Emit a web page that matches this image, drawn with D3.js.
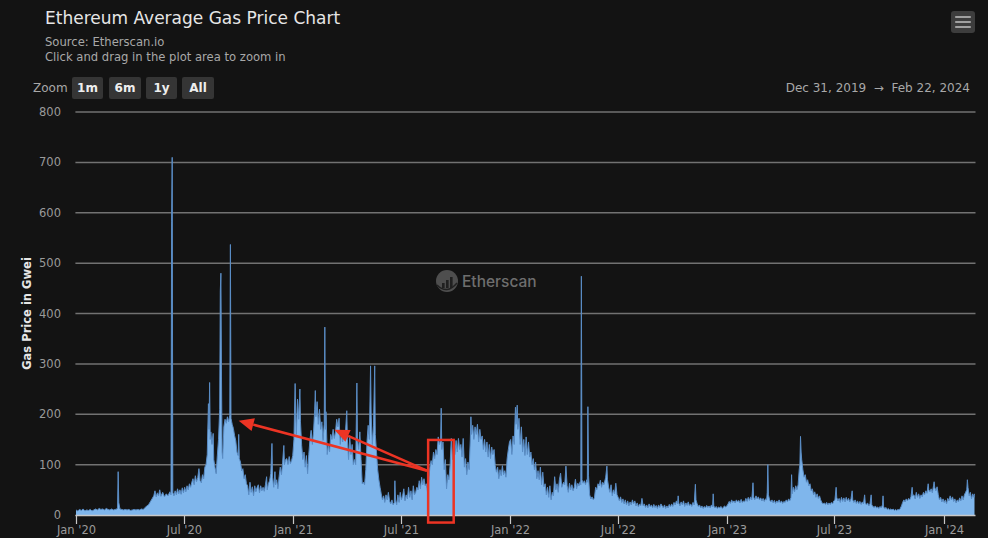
<!DOCTYPE html>
<html>
<head>
<meta charset="utf-8">
<script src="https://cdn.jsdelivr.net/npm/d3@7"></script>
<style>
  html, body { margin: 0; padding: 0; background: #131313; }
  svg { display: block; }
</style>
</head>
<body>
<svg id="chart" width="988" height="538"></svg>
<script>
// ---------------- DATA ----------------
const chartTitle = "Ethereum Average Gas Price Chart";
const subtitleLines = ["Source: Etherscan.io", "Click and drag in the plot area to zoom in"];
const yAxisTitle = "Gas Price in Gwei";
const zoomButtons = ["1m", "6m", "1y", "All"];
const rangeStart = "2019-12-31";
const rangeEnd = "2024-02-22";
const yTicks = [0, 100, 200, 300, 400, 500, 600, 700, 800];
const watermarkText = "Etherscan";

// daily average gas price (Gwei), [month-day, value] per year
const gas2020 = [
["01-01",10],["01-04",8],["01-07",11],["01-10",9],["01-13",12],["01-16",8],["01-19",10],["01-22",9],["01-25",11],["01-28",8],["01-31",10],["02-03",12],["02-06",10],["02-09",13],["02-12",11],["02-15",12],["02-18",10],["02-21",13],["02-24",11],["02-27",10],["03-01",12],["03-04",10],["03-07",11],["03-10",12],["03-11",14],["03-12",86],["03-13",25],["03-15",12],["03-18",11],["03-21",10],["03-24",11],["03-27",10],["03-30",11],["04-02",9],["04-05",10],["04-08",11],["04-11",10],["04-14",11],["04-17",10],["04-20",12],["04-23",11],["04-26",14],["04-29",18],["05-02",20],["05-05",26],["05-08",32],["05-11",38],["05-13",48],["05-15",36],["05-17",44],["05-19",38],["05-21",50],["05-23",37],["05-26",45],["05-29",36],["06-01",42],["06-04",38],["06-07",46],["06-09",40],["06-10",582],["06-11",710],["06-12",45],["06-14",38],["06-16",48],["06-18",40],["06-20",52],["06-22",42],["06-24",50],["06-26",41],["06-28",54],["06-30",44],["07-02",55],["07-04",46],["07-06",58],["07-08",50],["07-10",62],["07-12",55],["07-14",65],["07-16",72],["07-18",60],["07-20",78],["07-22",66],["07-24",74],["07-26",92],["07-28",68],["07-30",64],["08-01",80],["08-03",72],["08-05",95],["08-07",100],["08-09",120],["08-11",221],["08-12",170],["08-13",263],["08-14",150],["08-15",165],["08-17",140],["08-19",162],["08-20",110],["08-22",95],["08-24",82],["08-26",118],["08-28",150],["08-30",210],["08-31",445],["09-01",480],["09-02",274],["09-03",125],["09-04",112],["09-06",175],["09-08",190],["09-10",182],["09-12",195],["09-14",185],["09-16",198],["09-17",537],["09-18",192],["09-20",180],["09-22",172],["09-24",158],["09-26",148],["09-28",125],["09-30",118],["10-01",160],["10-02",112],["10-04",105],["10-06",88],["10-08",92],["10-10",72],["10-12",80],["10-14",62],["10-16",58],["10-18",40],["10-20",65],["10-22",45],["10-24",56],["10-26",38],["10-28",58],["10-30",46],["11-01",55],["11-03",60],["11-05",44],["11-07",58],["11-09",48],["11-11",55],["11-13",47],["11-15",60],["11-17",76],["11-18",50],["11-20",62],["11-22",68],["11-24",82],["11-26",142],["11-27",75],["11-29",55],["12-01",86],["12-02",60],["12-04",70],["12-06",52],["12-08",76],["12-10",95],["12-12",80],["12-14",105],["12-16",138],["12-17",100],["12-19",110],["12-21",112],["12-23",100],["12-25",116],["12-27",102],["12-29",108],["12-31",118]
];
const gas2021 = [
["01-02",150],["01-04",261],["01-05",200],["01-06",160],["01-08",230],["01-10",190],["01-12",250],["01-13",185],["01-15",138],["01-17",110],["01-19",125],["01-21",95],["01-23",118],["01-25",82],["01-27",120],["01-29",150],["01-31",168],["02-02",140],["02-04",165],["02-06",210],["02-07",247],["02-08",195],["02-10",225],["02-12",180],["02-14",210],["02-16",170],["02-18",185],["02-20",148],["02-22",180],["02-23",373],["02-24",170],["02-25",205],["02-27",120],["03-01",140],["03-03",125],["03-05",160],["03-07",150],["03-09",170],["03-11",152],["03-13",165],["03-15",190],["03-17",175],["03-19",192],["03-21",140],["03-23",165],["03-25",145],["03-27",160],["03-29",150],["04-01",207],["04-02",150],["04-04",110],["04-06",155],["04-08",120],["04-10",140],["04-12",100],["04-14",110],["04-16",100],["04-18",262],["04-19",150],["04-21",130],["04-23",165],["04-25",110],["04-27",62],["04-29",65],["05-01",60],["05-03",90],["05-05",145],["05-07",178],["05-09",150],["05-11",296],["05-12",200],["05-14",140],["05-16",177],["05-18",296],["05-19",160],["05-21",125],["05-23",90],["05-25",70],["05-27",55],["05-29",42],["05-31",30],["06-02",38],["06-04",25],["06-06",40],["06-08",30],["06-10",45],["06-12",28],["06-14",22],["06-16",30],["06-18",20],["06-20",25],["06-21",68],["06-22",30],["06-24",20],["06-26",40],["06-28",25],["06-30",45],["07-02",30],["07-04",38],["07-06",52],["07-08",28],["07-10",40],["07-12",32],["07-14",55],["07-16",35],["07-18",48],["07-20",30],["07-22",58],["07-24",40],["07-26",45],["07-28",55],["07-30",50],["08-01",68],["08-03",52],["08-05",75],["08-07",60],["08-09",72],["08-11",58],["08-13",62],["08-15",45],["08-17",70],["08-19",95],["08-21",108],["08-23",100],["08-25",125],["08-27",112],["08-29",130],["08-31",120],["09-02",155],["09-04",140],["09-06",150],["09-07",212],["09-08",130],["09-10",145],["09-12",90],["09-14",110],["09-16",52],["09-18",80],["09-20",70],["09-22",100],["09-24",152],["09-26",110],["09-28",140],["09-30",120],["10-02",148],["10-04",125],["10-06",152],["10-08",130],["10-10",140],["10-12",115],["10-14",152],["10-16",95],["10-18",112],["10-20",80],["10-22",105],["10-24",90],["10-26",150],["10-27",195],["10-28",160],["10-30",178],["11-01",150],["11-03",175],["11-05",160],["11-07",180],["11-09",145],["11-11",170],["11-13",150],["11-15",157],["11-17",130],["11-19",150],["11-21",125],["11-23",145],["11-25",115],["11-27",140],["11-29",112],["12-01",135],["12-03",120],["12-05",130],["12-07",98],["12-09",85],["12-11",95],["12-13",72],["12-15",90],["12-17",78],["12-19",98],["12-21",80],["12-23",88],["12-25",75],["12-27",112],["12-29",130],["12-31",145]
];
const gas2022 = [
["01-02",150],["01-04",120],["01-06",157],["01-08",140],["01-10",214],["01-11",180],["01-13",218],["01-14",170],["01-16",192],["01-18",140],["01-20",175],["01-22",125],["01-24",150],["01-26",118],["01-28",155],["01-30",120],["02-01",145],["02-03",115],["02-05",125],["02-07",100],["02-09",112],["02-11",90],["02-13",105],["02-15",72],["02-17",88],["02-19",70],["02-21",95],["02-23",60],["02-25",85],["02-27",56],["03-01",62],["03-03",40],["03-05",55],["03-07",35],["03-09",58],["03-11",30],["03-13",45],["03-15",38],["03-17",76],["03-19",50],["03-21",62],["03-23",45],["03-25",70],["03-27",83],["03-29",55],["04-01",65],["04-03",60],["04-05",97],["04-07",58],["04-09",45],["04-11",63],["04-13",50],["04-15",60],["04-17",48],["04-19",55],["04-21",71],["04-23",52],["04-25",63],["04-27",58],["04-29",66],["04-30",60],["05-01",474],["05-02",70],["05-04",63],["05-06",68],["05-08",60],["05-10",70],["05-11",65],["05-12",215],["05-13",79],["05-15",40],["05-17",32],["05-19",36],["05-21",30],["05-23",34],["05-25",55],["05-27",50],["05-29",62],["05-31",58],["06-02",69],["06-04",55],["06-06",65],["06-08",60],["06-11",75],["06-13",97],["06-14",70],["06-16",55],["06-18",45],["06-20",60],["06-22",38],["06-24",50],["06-26",42],["06-28",63],["06-30",40],["07-02",35],["07-04",28],["07-06",36],["07-08",25],["07-10",32],["07-12",22],["07-14",30],["07-16",20],["07-18",28],["07-20",18],["07-22",26],["07-24",20],["07-26",30],["07-28",22],["07-30",28],["08-01",18],["08-03",24],["08-05",16],["08-07",22],["08-09",18],["08-11",33],["08-13",18],["08-15",22],["08-17",15],["08-19",20],["08-21",14],["08-23",22],["08-25",16],["08-27",20],["08-29",14],["08-31",21],["09-02",15],["09-04",19],["09-06",13],["09-08",20],["09-10",15],["09-12",22],["09-14",18],["09-16",14],["09-18",20],["09-20",13],["09-22",18],["09-24",14],["09-26",21],["09-28",16],["09-30",22],["10-02",17],["10-04",25],["10-06",20],["10-08",28],["10-10",22],["10-11",38],["10-12",24],["10-14",18],["10-16",26],["10-18",20],["10-20",28],["10-22",17],["10-24",24],["10-26",19],["10-28",26],["10-30",18],["11-01",22],["11-03",17],["11-05",25],["11-07",20],["11-09",61],["11-10",30],["11-12",22],["11-14",17],["11-16",20],["11-18",14],["11-20",18],["11-22",13],["11-24",17],["11-26",14],["11-28",19],["11-30",15],["12-02",18],["12-04",14],["12-06",20],["12-08",16],["12-09",42],["12-10",18],["12-12",14],["12-14",17],["12-16",13],["12-18",16],["12-20",14],["12-22",17],["12-24",13],["12-26",15],["12-28",18],["12-30",16]
];
const gas2023 = [
["01-01",18],["01-03",22],["01-05",27],["01-07",23],["01-09",30],["01-11",25],["01-13",28],["01-15",24],["01-17",30],["01-19",26],["01-21",29],["01-23",24],["01-25",31],["01-27",25],["01-29",28],["01-31",26],["02-02",33],["02-04",27],["02-06",35],["02-08",29],["02-10",36],["02-12",30],["02-14",64],["02-15",36],["02-17",30],["02-19",38],["02-21",32],["02-23",36],["02-25",30],["02-27",34],["03-01",28],["03-03",33],["03-05",27],["03-07",32],["03-09",30],["03-10",45],["03-11",100],["03-12",40],["03-14",30],["03-16",26],["03-18",30],["03-20",24],["03-22",29],["03-24",23],["03-26",28],["03-28",25],["03-30",30],["04-01",24],["04-03",28],["04-05",23],["04-07",27],["04-09",25],["04-11",30],["04-13",26],["04-15",32],["04-17",28],["04-19",35],["04-20",80],["04-21",42],["04-23",55],["04-25",46],["04-27",58],["04-29",50],["05-01",60],["05-03",92],["05-04",100],["05-05",156],["05-06",125],["05-07",110],["05-09",90],["05-11",75],["05-13",80],["05-15",65],["05-17",70],["05-19",58],["05-21",62],["05-23",48],["05-25",52],["05-27",40],["05-29",46],["05-31",35],["06-02",42],["06-04",33],["06-06",38],["06-08",30],["06-10",25],["06-12",22],["06-14",24],["06-16",21],["06-18",25],["06-20",20],["06-22",24],["06-24",21],["06-26",25],["06-28",22],["06-30",28],["07-02",30],["07-04",55],["07-05",35],["07-07",28],["07-09",33],["07-11",25],["07-13",35],["07-15",27],["07-17",34],["07-19",26],["07-21",35],["07-23",28],["07-25",33],["07-27",26],["07-29",32],["07-31",48],["08-01",30],["08-03",25],["08-05",30],["08-07",23],["08-09",28],["08-11",22],["08-13",27],["08-15",21],["08-17",26],["08-19",22],["08-21",40],["08-22",25],["08-24",20],["08-26",24],["08-28",18],["08-30",22],["09-01",40],["09-02",20],["09-04",17],["09-06",15],["09-08",18],["09-10",14],["09-12",16],["09-14",13],["09-16",17],["09-18",14],["09-20",20],["09-21",38],["09-22",16],["09-24",13],["09-26",15],["09-28",11],["09-30",13],["10-02",10],["10-04",12],["10-06",10],["10-08",12],["10-10",9],["10-12",11],["10-14",9],["10-16",11],["10-18",10],["10-20",13],["10-22",18],["10-24",25],["10-26",30],["10-28",26],["10-30",32],["11-01",28],["11-03",33],["11-05",30],["11-07",36],["11-09",55],["11-10",38],["11-12",40],["11-14",32],["11-16",45],["11-18",35],["11-20",42],["11-22",33],["11-24",40],["11-26",36],["11-28",45],["11-30",40],["12-02",48],["12-04",43],["12-06",62],["12-07",50],["12-09",46],["12-11",52],["12-13",44],["12-15",58],["12-16",66],["12-17",55],["12-19",48],["12-21",56],["12-23",40],["12-25",30],["12-27",35],["12-29",26],["12-31",32]
];
const gas2024 = [
["01-02",25],["01-04",30],["01-06",22],["01-08",33],["01-10",28],["01-12",38],["01-14",30],["01-16",36],["01-18",27],["01-20",32],["01-22",24],["01-24",30],["01-26",26],["01-28",34],["01-30",28],["02-01",38],["02-03",30],["02-05",40],["02-07",45],["02-09",50],["02-10",70],["02-11",55],["02-13",38],["02-15",45],["02-17",32],["02-19",42],["02-21",35],["02-22",42]
];

// annotation (red arrows + box), in data coordinates
const boxStart = "2021-08-16", boxEnd = "2021-09-28", boxTop = 149, boxBottom = -15;
const arrowFrom = ["2021-08-14", 88];
const arrowTargets = [["2020-10-01", 187], ["2021-03-11", 169]];

// ---------------- CHART ----------------
const W = 988, H = 538;
const plot = { left: 75.4, right: 974.5, top: 112, bottom: 515 };
const FONT = "'DejaVu Sans', 'Noto Sans', sans-serif";
const parse = d3.utcParse("%Y-%m-%d");

const series = [[2020, gas2020], [2021, gas2021], [2022, gas2022], [2023, gas2023], [2024, gas2024]]
  .flatMap(([yr, arr]) => arr.map(([md, v]) => ({ date: parse(`${yr}-${md}`), value: v })));

const svg = d3.select("#chart");
svg.append("rect").attr("width", W).attr("height", H).attr("fill", "#131313");

const x = d3.scaleUtc().domain([parse(rangeStart), parse(rangeEnd)]).range([plot.left, plot.right]);
const y = d3.scaleLinear().domain([0, 800]).range([plot.bottom, plot.top]);

// title / subtitle
svg.append("text").attr("x", 45).attr("y", 24).attr("fill", "#e6e6e6")
  .attr("font-family", FONT).attr("font-size", 17).text(chartTitle);
subtitleLines.forEach((t, i) => {
  svg.append("text").attr("x", 45).attr("y", 46 + i * 15).attr("fill", "#a8a8a8")
    .attr("font-family", FONT).attr("font-size", 11.6).text(t);
});

// menu button
const menu = svg.append("g").attr("transform", "translate(951,11)");
menu.append("rect").attr("width", 24).attr("height", 22).attr("rx", 3).attr("fill", "#3d3d3d");
[6, 11, 16].forEach(yy => menu.append("line").attr("x1", 5).attr("x2", 19).attr("y1", yy).attr("y2", yy)
  .attr("stroke", "#a0a0a0").attr("stroke-width", 2.2).attr("stroke-linecap", "round"));

// zoom buttons
svg.append("text").attr("x", 33).attr("y", 92).attr("fill", "#a8a8a8")
  .attr("font-family", FONT).attr("font-size", 12).text("Zoom");
const btnX = [72, 109, 146, 182], btnW = [31, 32, 31, 32];
zoomButtons.forEach((b, i) => {
  svg.append("rect").attr("x", btnX[i]).attr("y", 77).attr("width", btnW[i]).attr("height", 22)
    .attr("rx", 2).attr("fill", "#353535");
  svg.append("text").attr("x", btnX[i] + btnW[i] / 2).attr("y", 92).attr("text-anchor", "middle")
    .attr("fill", "#eeeeee").attr("font-family", FONT).attr("font-size", 12).attr("font-weight", "bold").text(b);
});

// date range
const fmtRange = d3.utcFormat("%b %-d, %Y");
svg.append("text").attr("x", 970).attr("y", 92).attr("text-anchor", "end").attr("fill", "#a8a8a8")
  .attr("font-family", FONT).attr("font-size", 12).attr("xml:space", "preserve")
  .text(`${fmtRange(parse(rangeStart))}  \u2192  ${fmtRange(parse(rangeEnd))}`);

// grid + y labels
const gy = svg.append("g");
yTicks.forEach(t => {
  gy.append("line").attr("x1", plot.left).attr("x2", plot.right + 1).attr("y1", y(t)).attr("y2", y(t))
    .attr("stroke", t === 0 ? "none" : "#727272").attr("stroke-width", 1.5);
  gy.append("text").attr("x", 61).attr("y", y(t) + 4).attr("text-anchor", "end")
    .attr("fill", "#9a9a9a").attr("font-family", FONT).attr("font-size", 11.5).text(t);
});

// y axis title
svg.append("text").attr("transform", `translate(31,${(plot.top + plot.bottom) / 2}) rotate(-90)`)
  .attr("text-anchor", "middle").attr("fill", "#e6e6e6").attr("font-family", FONT)
  .attr("font-size", 11.5).attr("font-weight", "bold").text(yAxisTitle);

// watermark
const wm = svg.append("g").attr("transform", "translate(447,281)").attr("opacity", 0.9);
wm.append("circle").attr("r", 11).attr("fill", "#555");
[[-5, 2, 5], [-1, -1, 8], [3, -4, 11]].forEach(([bx, by, bh]) =>
  wm.append("rect").attr("x", bx).attr("y", by).attr("width", 2.6).attr("height", bh).attr("fill", "#222"));
wm.append("path").attr("d", "M-10,4 Q0,14 10,2").attr("stroke", "#222").attr("stroke-width", 1.5).attr("fill", "none");
svg.append("text").attr("x", 462).attr("y", 287).attr("fill", "#6e6e6e")
  .attr("font-family", "'Inter', 'DejaVu Sans', sans-serif").attr("font-size", 15.5).attr("font-weight", 500)
  .text(watermarkText);

// area series
const area = d3.area().x(d => x(d.date)).y0(y(0)).y1(d => y(d.value)).curve(d3.curveLinear);
const line = d3.line().x(d => x(d.date)).y(d => y(d.value)).curve(d3.curveLinear);
svg.append("path").datum(series).attr("d", area).attr("fill", "#7fb6ec");
svg.append("path").datum(series).attr("d", line).attr("fill", "none")
  .attr("stroke", "#5a8dc6").attr("stroke-width", 1).attr("stroke-linejoin", "round");

// x axis
const gx = svg.append("g");
gx.append("line").attr("x1", plot.left).attr("x2", plot.right + 1).attr("y1", plot.bottom + 0.5).attr("y2", plot.bottom + 0.5)
  .attr("stroke", "#c8c8c8").attr("stroke-width", 1.5);
const xTicks = d3.utcMonth.every(6).range(parse("2020-01-01"), parse(rangeEnd));
const fmtTick = d3.utcFormat("%b '%y");
xTicks.forEach(t => {
  const px = Math.round(x(t)) + 0.5;
  gx.append("line").attr("x1", px).attr("x2", px).attr("y1", plot.bottom).attr("y2", plot.bottom + 9)
    .attr("stroke", "#c8c8c8").attr("stroke-width", 1.2);
  gx.append("text").attr("x", px).attr("y", 534).attr("text-anchor", "middle")
    .attr("fill", "#9a9a9a").attr("font-family", FONT).attr("font-size", 11.5).text(fmtTick(t));
});

// annotation: red box and arrows
const RED = "#ec3424";
svg.append("rect")
  .attr("x", x(parse(boxStart))).attr("y", y(boxTop))
  .attr("width", x(parse(boxEnd)) - x(parse(boxStart))).attr("height", y(boxBottom) - y(boxTop))
  .attr("fill", "none").attr("stroke", RED).attr("stroke-width", 2.5);
const ax0 = x(parse(arrowFrom[0])), ay0 = y(arrowFrom[1]);
arrowTargets.forEach(([d, v]) => {
  const tx = x(parse(d)), ty = y(v);
  const ang = Math.atan2(ty - ay0, tx - ax0);
  const headLen = 15, headW = 6.5;
  const bx = tx - headLen * Math.cos(ang), by = ty - headLen * Math.sin(ang);
  svg.append("line").attr("x1", ax0).attr("y1", ay0).attr("x2", bx).attr("y2", by)
    .attr("stroke", RED).attr("stroke-width", 2.5);
  const px = -Math.sin(ang), py = Math.cos(ang);
  svg.append("path")
    .attr("d", `M${tx},${ty} L${bx + px * headW},${by + py * headW} L${bx - px * headW},${by - py * headW} Z`)
    .attr("fill", RED);
});
</script>
</body>
</html>
